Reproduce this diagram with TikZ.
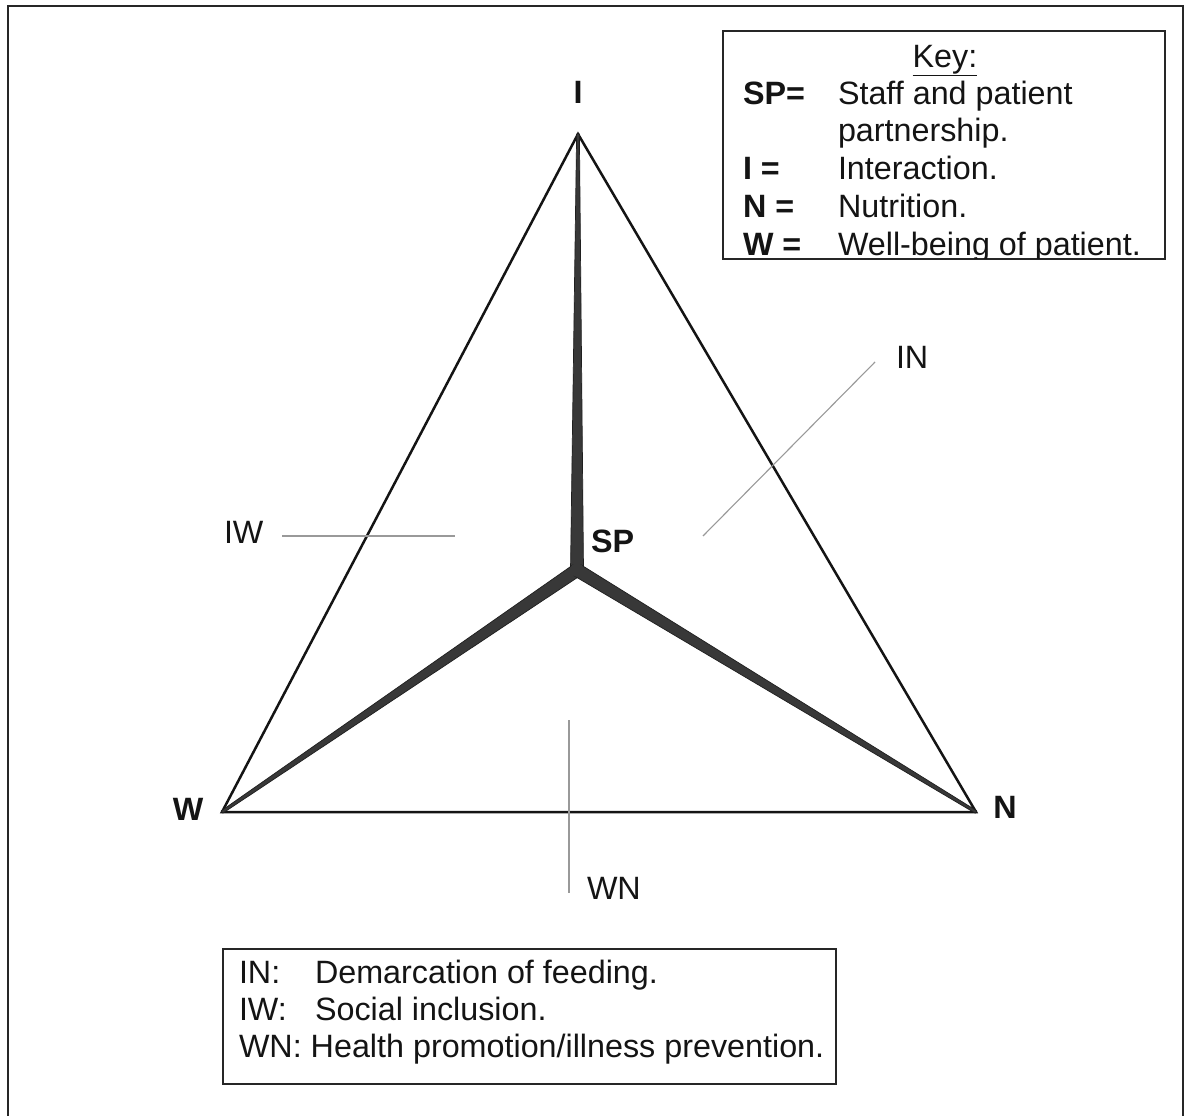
\documentclass[tikz,border=0pt]{standalone}
\usepackage{fontspec}
\setmainfont{Liberation Sans}
\usetikzlibrary{calc}
\begin{document}
\begin{tikzpicture}[x=1pt,y=-1pt,
  txt/.style={inner sep=0pt, outer sep=0pt, text=black!92,
    font=\fontsize{32.3}{38}\selectfont},
  bold/.style={txt, font=\fontsize{32.3}{38}\selectfont\bfseries},
  edge/.style={line width=2.5pt, black!92, line join=miter},
  spoke/.style={fill=black!78, draw=black!88, line width=0.7pt, line join=round},
  tick/.style={line width=1.1pt, black!40},
  boxline/.style={line width=2pt, black!85},
]
\useasboundingbox (0,0) rectangle (1189,1116);
\fill[white] (0,0) rectangle (1189,1116);

% page frame, open at the foot
\draw[boxline] (8,1116) -- (8,6) -- (1183,6) -- (1183,1116);

% corners of the triangle and its centre
\coordinate (I) at (578,134);
\coordinate (W) at (222,812);
\coordinate (N) at (976,812);
\coordinate (SP) at (577,570);

\draw[edge] (I) -- (N) -- (W) -- cycle;

% tapered spokes from the centre to each corner
\foreach \v in {I,W,N}{
  \path[spoke] ($(SP)!6.5pt!90:(\v)$) -- ($(\v)!1.4pt!-90:(SP)$)
     -- ($(\v)!1.4pt!90:(SP)$) -- ($(SP)!6.5pt!-90:(\v)$) -- cycle;
}
\fill[black!78] (SP) circle (6.8pt);

% corner and centre labels
\node[bold, anchor=base] (lI) at (578,103) {I};
\node[bold, anchor=base] (lW) at (188,820) {W};
\node[bold, anchor=base] (lN) at (1005,818) {N};
\node[bold, anchor=base west] (lSP) at (591,552) {SP};

% edge markers
\node[txt, anchor=base west] (lIW) at (224,543) {IW};
\node[txt, anchor=base west] (lIN) at (896,368) {IN};
\node[txt, anchor=base west] (lWN) at (587,899) {WN};
\coordinate (iw1) at (282,536); \coordinate (iw2) at (455,536);
\coordinate (in1) at (875,362); \coordinate (in2) at (703,536);
\coordinate (wn1) at (569,720); \coordinate (wn2) at (569,893);
\draw[tick] (iw1) -- (iw2);
\draw[tick] (in1) -- (in2);
\draw[tick] (wn1) -- (wn2);

% key
\draw[boxline] (723,31) rectangle (1165,259);
\begin{scope}
  \clip (723,31) rectangle (1165,258);
  \node[txt, anchor=base] (key) at (945,67) {\underline{Key:}};
  \node[bold, anchor=base west] (kSP) at (743,104) {SP=};
  \node[txt, anchor=base west] (kSPa) at (838,104) {Staff and patient};
  \node[txt, anchor=base west] (kSPb) at (838,141.5) {partnership.};
  \node[bold, anchor=base west] (kI) at (743,179) {I =};
  \node[txt, anchor=base west] (kIt) at (838,179) {Interaction.};
  \node[bold, anchor=base west] (kN) at (743,217) {N =};
  \node[txt, anchor=base west] (kNt) at (838,217) {Nutrition.};
  \node[bold, anchor=base west] (kW) at (743,255) {W =};
  \node[txt, anchor=base west] (kWt) at (838,255) {Well-being of patient.};
\end{scope}

% edge legend
\draw[boxline] (223,949) rectangle (836,1084);
\node[txt, anchor=base west] (gIN) at (239,983) {IN:};
\node[txt, anchor=base west] (gINt) at (315,983) {Demarcation of feeding.};
\node[txt, anchor=base west] (gIW) at (239,1020) {IW:};
\node[txt, anchor=base west] (gIWt) at (315,1020) {Social inclusion.};
\node[txt, anchor=base west] (gWN) at (239,1057) {WN: Health promotion/illness prevention.};
\end{tikzpicture}
\end{document}
